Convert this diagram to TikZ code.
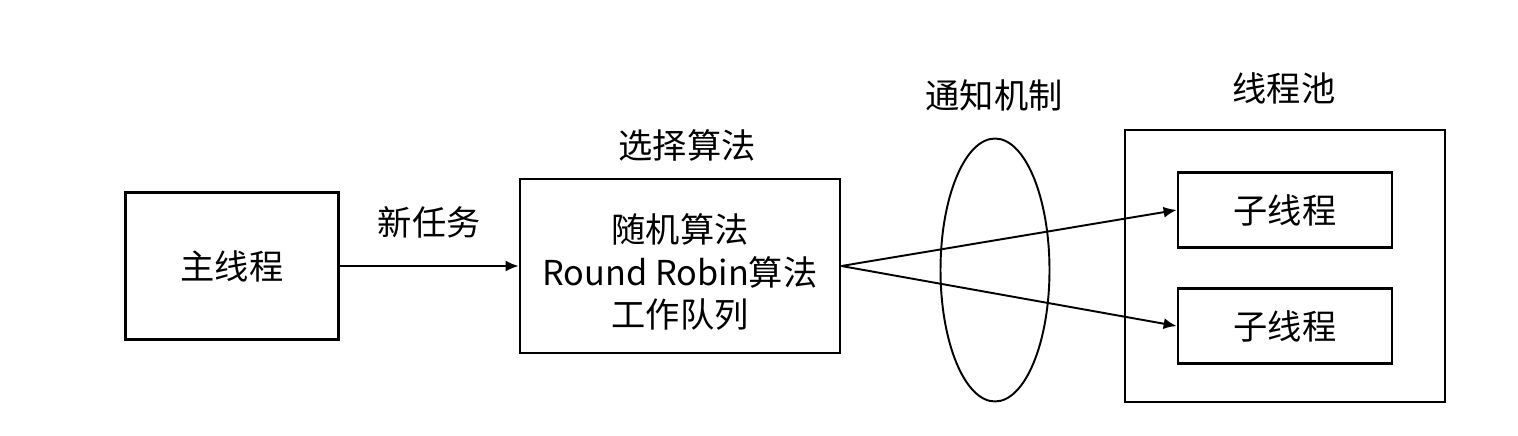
\documentclass[tikz,border=0pt]{standalone}
\usepackage{fontspec}
\setmainfont{Noto Sans CJK SC}
\usepackage{tikz}
\usetikzlibrary{positioning,arrows.meta,shapes.geometric}

\begin{document}
\begin{tikzpicture}[
    x=0.02cm, y=-0.02cm,
    font=\fontsize{19.5}{24}\selectfont,
    box/.style     = {draw, line width=1.6pt, align=center, inner sep=2pt},
    subbox/.style  = {box, minimum width=4.28cm, minimum height=1.5cm},
    lbl/.style     = {inner sep=1pt},
    ar/.style      = {-{Latex[length=2.6mm, width=2.2mm]}, line width=1.1pt},
]
\useasboundingbox (0,0) rectangle (1518,436);

% ---------------- main thread ----------------
\node[box, minimum width=4.26cm, minimum height=2.94cm] (main) at (232,266) {主线程};

% ---------------- selection ----------------
\node[box, minimum width=6.4cm, minimum height=3.48cm] (algo) at (680,266) {};
\node[align=center] (algotxt) at (680,272) {随机算法 \\ Round Robin算法 \\ 工作队列};
\node[lbl] (algolbl) at (687,145) {选择算法};

\draw[ar] (main) -- node[lbl, above=5mm] (task) {新任务} (algo);

% ---------------- notification ----------------
\node[draw, ellipse, line width=1.1pt, minimum width=2.18cm, minimum height=5.26cm,
      inner sep=0pt] (notify) at (995,270) {};
\node[lbl] (notifylbl) at (994,95) {通知机制};

% ---------------- thread pool ----------------
\node[box, minimum width=6.4cm, minimum height=5.44cm] (pool) at (1285,266) {};
\node[lbl] (poollbl) at (1284,88) {线程池};
\node[subbox] (sub1) at (1285,210) {子线程};
\node[subbox] (sub2) at (1285,326) {子线程};

\draw[ar] (algo.east) -- (sub1.west);
\draw[ar] (algo.east) -- (sub2.west);

\end{tikzpicture}
\end{document}
